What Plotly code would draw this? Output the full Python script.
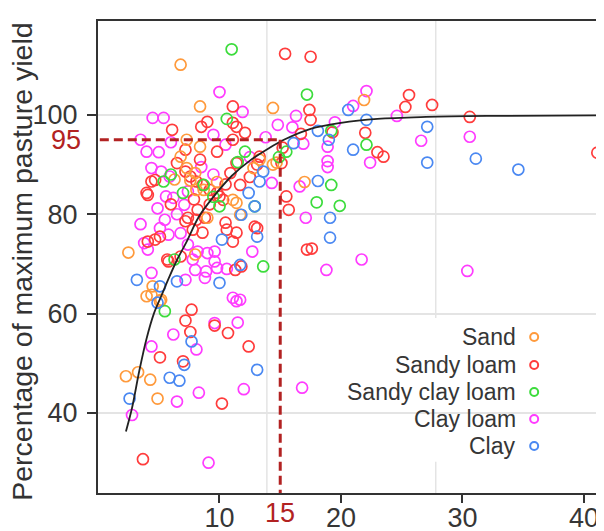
import plotly.graph_objects as go

# ---------------- data ----------------
sand_x = [6.8, 8.4, 14.4, 21.9, 17.0, 14.7, 6.8, 7.3, 8.0, 8.1, 8.7, 11.1, 11.4, 12.8, 13.3, 14.4, 9.0, 11.7,
          2.5, 7.3, 8.4, 2.3, 3.3, 4.3, 4.9, 4.0, 4.5, 5.1, 4.4, 8.0, 5.2, 6.3, 9.8, 7.6]
sand_y = [110.1, 101.7, 101.4, 103.0, 86.5, 90.4, 91.6, 89.3, 88.3, 84.9, 84.9, 82.9, 82.3, 89.3, 91.0, 90.0, 79.3, 79.9,
          72.3, 95.0, 93.6, 47.4, 48.2, 46.7, 42.9, 63.5, 65.5, 62.5, 63.8, 71.9, 62.8, 87.0, 86.5, 86.8]

sandy_loam_x = [15.4, 17.5, 27.5, 25.6, 25.3, 30.6, 41.1, 23.5, 17.6, 15.5, 15.7, 15.1, 15.2, 17.4, 17.5, 16.7, 22.0,
                11.1, 11.1, 11.4, 12.1, 9.0, 8.5, 6.1, 3.7, 5.1, 7.2, 7.6, 7.7, 7.0, 9.6, 10.7, 12.4, 10.2, 12.9,
                11.4, 11.1, 10.5, 8.8, 11.8, 11.3, 17.2, 4.1, 4.7, 4.1, 4.7, 5.1, 5.8, 7.2, 7.8, 7.4, 8.2, 7.2, 7.6,
                8.1, 8.6, 9.2, 9.8, 10.0, 10.3, 4.0, 4.4, 6.5, 7.2, 8.4, 9.8, 11.1, 13.3, 13.1, 11.4, 10.9, 11.7,
                10.6, 13.1, 8.1, 8.6, 5.7, 6.8, 9.2, 10.5, 19.3, 23.0, 7.9, 6.0, 12.5]
sandy_loam_y = [112.3, 111.7, 102.0, 104.0, 101.6, 99.6, 92.4, 91.6, 73.1, 83.6, 80.9, 90.3, 93.4, 101.0, 99.0, 96.2, 96.4,
                101.7, 98.4, 97.6, 96.4, 98.6, 97.6, 97.0, 30.7, 51.2, 58.6, 56.3, 60.8, 50.4, 57.6, 56.1, 53.4, 41.9, 77.5,
                76.3, 74.5, 78.3, 79.3, 69.5, 68.8, 72.9, 83.9, 86.9, 74.5, 74.9, 75.5, 70.5, 78.6, 76.9, 79.3, 80.9, 88.6, 87.6,
                86.6, 85.9, 84.9, 84.3, 83.6, 82.9, 84.3, 86.6, 90.3, 93.0, 91.0, 92.6, 95.0, 91.6, 90.0, 90.3, 88.3, 85.9,
                76.9, 77.2, 78.9, 76.3, 70.9, 71.5, 82.0, 86.0, 96.5, 92.5, 83.0, 82.0, 87.5]

sandy_clay_loam_x = [11.0, 17.2, 19.2, 22.1, 19.2, 18.0, 19.9, 10.6, 12.1, 14.9, 15.5, 5.4, 7.0, 8.7, 10.0, 12.9,
                     13.6, 6.3, 5.5, 9.5, 6.0, 11.5]
sandy_clay_loam_y = [113.2, 104.1, 96.8, 94.0, 85.9, 82.4, 81.7, 99.2, 92.6, 91.5, 92.6, 86.6, 84.3, 85.9, 81.6, 81.6,
                     69.5, 70.9, 60.5, 83.5, 88.0, 90.5]

clay_loam_x = [10.0, 4.5, 5.4, 4.0, 11.9, 22.1, 21.0, 16.3, 24.6, 30.6, 26.6, 16.9, 18.9, 18.9, 22.4, 21.7, 18.8, 17.1,
               30.4, 16.8, 9.1, 2.8, 4.4, 6.2, 6.5, 8.1, 8.3, 9.6, 11.5, 11.4, 11.7, 12.0, 7.2, 4.4, 8.9, 9.8, 10.6,
               4.9, 5.6, 6.2, 5.5, 5.1, 5.8, 3.8, 4.1, 6.8, 7.4, 8.2, 8.0, 4.4, 5.2, 5.9, 7.1, 7.4, 8.8, 7.8, 14.3,
               16.6, 12.7, 9.0, 9.6, 9.6, 11.1, 3.5, 5.0, 6.0, 9.5, 10.5, 12.5, 13.8, 14.8, 16.0, 8.5, 9.5, 6.5,
               3.5, 18.9, 19.5]
clay_loam_y = [104.6, 99.4, 99.4, 92.6, 100.6, 104.8, 101.8, 99.8, 99.8, 95.6, 94.8, 94.2, 93.6, 90.7, 90.4, 70.9, 68.8, 79.3,
               68.6, 45.1, 30.0, 39.6, 53.4, 55.8, 42.3, 52.8, 44.1, 58.1, 58.2, 62.5, 62.8, 44.8, 66.8, 68.2, 68.5, 69.2, 69.0,
               81.2, 83.6, 83.3, 78.9, 77.2, 75.9, 74.2, 72.9, 76.2, 73.9, 72.5, 68.8, 89.3, 88.6, 87.6, 81.9, 84.6, 67.2, 70.9, 86.3,
               85.6, 72.5, 72.2, 72.5, 70.5, 63.2, 95.0, 92.5, 94.5, 96.0, 94.0, 91.5, 95.5, 98.0, 97.5, 89.5, 88.0, 80.0,
               78.0, 89.5, 98.5]

clay_x = [20.6, 22.1, 18.1, 19.0, 21.0, 27.1, 27.1, 31.1, 34.6, 18.1, 19.1, 19.1, 13.6, 12.9, 11.8, 13.1, 10.2, 10.0,
          11.7, 12.4, 13.1, 2.6, 5.9, 6.7, 7.1, 7.7, 3.2, 5.1, 6.5, 4.9, 16.1, 13.3]
clay_y = [101.0, 99.0, 96.8, 95.0, 93.0, 97.6, 90.4, 91.2, 89.0, 86.7, 79.3, 75.3, 88.6, 81.6, 79.9, 75.5, 74.9, 66.2,
          69.8, 84.3, 48.7, 42.9, 47.1, 46.5, 49.7, 54.4, 66.8, 65.5, 66.5, 62.2, 94.3, 86.6]

curve_x = [2.3, 2.8, 3.4, 4.0, 4.6, 5.2, 5.8, 6.5, 7.3, 8.3, 9.5, 11.0, 12.5, 14.0, 15.3, 17.5, 20.0, 23.0, 27.0, 32.0, 41.7]
curve_y = [36.3, 41.0, 48.5, 55.0, 60.0, 63.5, 67.0, 70.8, 74.5, 79.5, 83.5, 87.7, 90.8, 93.2, 95.0, 97.2, 98.4, 99.2, 99.6, 99.8, 99.9]

threshold_x = 15
threshold_y = 95

series_names = ["Sand", "Sandy loam", "Sandy clay loam", "Clay loam", "Clay"]
series_colors = ["#FF9A3C", "#FF3C3C", "#3CDC3C", "#FF3CFF", "#4A88F2"]

x_ticks = [10, 20, 30, 40]
y_ticks = [40, 60, 80, 100]
x_grid = [13.9, 27.8]

X_RANGE = [0, 41.65]
Y_RANGE = [23.9, 118.9]

FONT = "Liberation Sans, Arial, sans-serif"
TXT = "#363636"
DARKRED = "#B22222"

data = {
    "Sand": (sand_x, sand_y),
    "Sandy loam": (sandy_loam_x, sandy_loam_y),
    "Sandy clay loam": (sandy_clay_loam_x, sandy_clay_loam_y),
    "Clay loam": (clay_loam_x, clay_loam_y),
    "Clay": (clay_x, clay_y),
}
color_of = dict(zip(series_names, series_colors))

fig = go.Figure()
for name in ["Clay loam", "Sandy loam", "Sand", "Sandy clay loam", "Clay"]:
    xs, ys = data[name]
    fig.add_trace(go.Scatter(
        x=xs, y=ys, mode="markers", name=name, showlegend=False,
        marker=dict(symbol="circle-open", size=11, color=color_of[name], line=dict(width=1.7, color=color_of[name])),
    ))

fig.add_trace(go.Scatter(x=curve_x, y=curve_y, mode="lines", showlegend=False,
                         line=dict(color="#222222", width=1.8, shape="spline")))

shapes = []
for gx in x_grid:
    shapes.append(dict(type="line", xref="x", yref="paper", x0=gx, x1=gx, y0=0, y1=1,
                       line=dict(color="#e4e4e4", width=1.5), layer="below"))
# legend background
shapes.append(dict(type="rect", xref="paper", yref="paper", x0=0.498, x1=0.903, y0=0.066, y1=0.371,
                   fillcolor="white", line=dict(width=0), layer="between"))
# threshold dashed lines
shapes.append(dict(type="line", xref="x", yref="y", x0=X_RANGE[0] + 0.15, x1=threshold_x, y0=threshold_y, y1=threshold_y,
                   line=dict(color=DARKRED, width=3, dash="9px,5px"), layer="above"))
shapes.append(dict(type="line", xref="x", yref="y", x0=threshold_x, x1=threshold_x, y0=threshold_y, y1=Y_RANGE[0],
                   line=dict(color=DARKRED, width=3, dash="9px,5px"), layer="above"))

annotations = []
# legend (symbols on the right of the text)
row_y = [0.3305, 0.2712, 0.2140, 0.1568, 0.0996]
for name, ry in zip(series_names, row_y):
    annotations.append(dict(xref="paper", yref="paper", x=0.830, y=ry, text=name, showarrow=False,
                            xanchor="right", yanchor="middle", font=dict(family=FONT, size=23, color=TXT)))
    shapes.append(dict(type="circle", xref="paper", yref="paper", xsizemode="pixel", ysizemode="pixel",
                       xanchor=0.862, yanchor=ry, x0=-4, x1=4, y0=-4, y1=4,
                       line=dict(color=color_of[name], width=2), fillcolor="rgba(0,0,0,0)", layer="above"))

# red threshold labels
annotations.append(dict(xref="paper", yref="y", x=0, y=threshold_y, text=str(threshold_y), showarrow=False,
                        xanchor="right", yanchor="middle", xshift=-15, font=dict(family=FONT, size=27, color=DARKRED)))
annotations.append(dict(xref="x", yref="paper", x=threshold_x, y=0, text=str(threshold_x), showarrow=False,
                        xanchor="center", yanchor="top", yshift=-3, font=dict(family=FONT, size=27, color=DARKRED)))
# y-axis title
annotations.append(dict(xref="paper", yref="paper", x=-0.150, y=0.49, text="Percentage of maximum pasture yield",
                        textangle=-90, showarrow=False, xanchor="center", yanchor="middle",
                        font=dict(family=FONT, size=28.5, color="#333333")))

# the page body adds an 8px margin, so the figure is sized to fill the remaining view
fig.update_layout(
    width=596, height=523,
    margin=dict(l=90, r=0, t=13, b=38, autoexpand=False),
    paper_bgcolor="white", plot_bgcolor="white",
    font=dict(family=FONT, color=TXT),
    shapes=shapes, annotations=annotations,
    showlegend=False,
    xaxis=dict(range=X_RANGE, tickmode="array", tickvals=x_ticks, ticks="outside", ticklen=8, tickwidth=1.5,
               tickcolor="#333", showgrid=False, zeroline=False, showline=True, linecolor="#333", linewidth=2,
               mirror=True, automargin=False, ticklabelstandoff=-8,
               tickfont=dict(family=FONT, size=27, color=TXT)),
    yaxis=dict(range=Y_RANGE, tickmode="array", tickvals=y_ticks, ticks="outside", ticklen=9, tickwidth=1.5,
               tickcolor="#333", showgrid=True, gridcolor="#e4e4e4", gridwidth=1.5, zeroline=False,
               showline=True, linecolor="#333", linewidth=2, mirror=False, automargin=False,
               ticklabelstandoff=4, tickfont=dict(family=FONT, size=27, color=TXT)),
)

fig.write_html("out.html")
